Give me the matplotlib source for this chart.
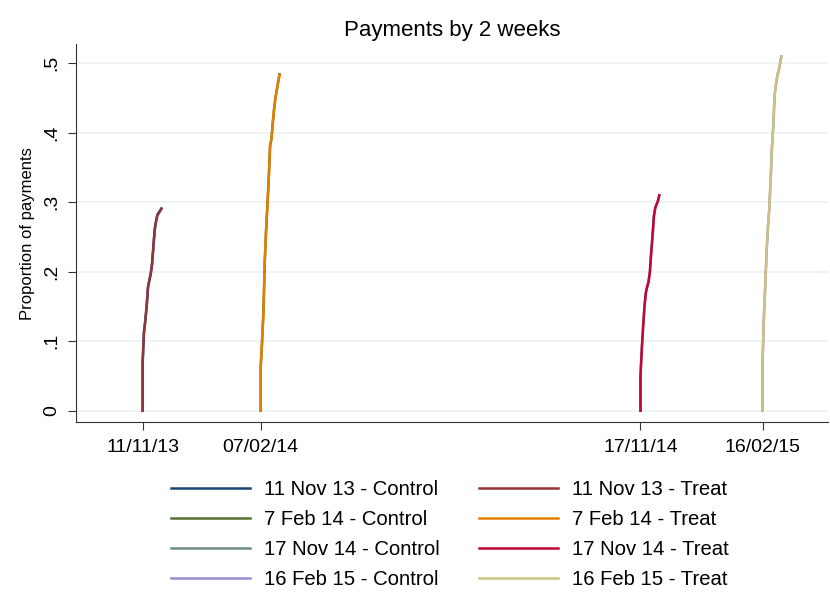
import numpy as np
import pandas as pd
import matplotlib
matplotlib.use("Agg")
import matplotlib.pyplot as plt

plt.rcParams["font.family"] = ["Liberation Sans", "DejaVu Sans"]

# cohort start dates and labels
START_DATES = ["2013-11-11", "2014-02-07", "2014-11-17", "2015-02-16"]
COHORTS = ["11 Nov 13", "7 Feb 14", "17 Nov 14", "16 Feb 15"]
TICK_LABELS = ["11/11/13", "07/02/14", "17/11/14", "16/02/15"]

# days since letter (first day repeated for the jump at day 0)
DAYS = [0, 0, 1, 2, 3, 4, 5, 6, 7, 8, 9, 10, 11, 12, 13, 14]

# cumulative proportion of payments, treatment groups
TREAT_NOV13 = [0, 0.07, 0.114, 0.13, 0.15, 0.178, 0.188, 0.196, 0.21, 0.235, 0.261, 0.272, 0.281, 0.284, 0.287, 0.29]
TREAT_FEB14 = [0, 0.064, 0.10, 0.14, 0.215, 0.26, 0.295, 0.335, 0.383, 0.39, 0.415, 0.435, 0.45, 0.462, 0.472, 0.483]
TREAT_NOV14 = [0, 0.05, 0.09, 0.122, 0.15, 0.17, 0.178, 0.185, 0.20, 0.228, 0.252, 0.28, 0.292, 0.297, 0.302, 0.31]
TREAT_FEB15 = [0, 0.073, 0.136, 0.18, 0.23, 0.265, 0.29, 0.333, 0.38, 0.41, 0.455, 0.47, 0.483, 0.49, 0.50, 0.51]

# control groups (almost on top of the treatment lines)
CONTROL_NOV13 = [0, 0.068, 0.112, 0.129, 0.151, 0.177, 0.187, 0.197, 0.211, 0.236, 0.26, 0.273, 0.282, 0.285, 0.288, 0.291]
CONTROL_FEB14 = [0, 0.062, 0.099, 0.141, 0.213, 0.259, 0.296, 0.334, 0.381, 0.391, 0.414, 0.434, 0.451, 0.461, 0.473, 0.484]
CONTROL_NOV14 = [0, 0.049, 0.089, 0.121, 0.151, 0.169, 0.179, 0.186, 0.199, 0.227, 0.251, 0.279, 0.291, 0.296, 0.301, 0.309]
CONTROL_FEB15 = [0, 0.071, 0.135, 0.181, 0.229, 0.264, 0.291, 0.332, 0.379, 0.411, 0.454, 0.469, 0.482, 0.489, 0.499, 0.509]

CONTROL_COLORS = ["#1a476f", "#55752f", "#6e8e84", "#938dd2"]
TREAT_COLORS = ["#90353b", "#e37e00", "#c10534", "#cac27e"]

controls = [CONTROL_NOV13, CONTROL_FEB14, CONTROL_NOV14, CONTROL_FEB15]
treats = [TREAT_NOV13, TREAT_FEB14, TREAT_NOV14, TREAT_FEB15]


def main():
    fig = plt.figure(figsize=(8.3, 6.07), dpi=100)
    ax = fig.add_axes([0.091, 0.305, 0.907, 0.622])

    starts = pd.to_datetime(START_DATES)
    offsets = pd.to_timedelta(DAYS, unit="D")

    ctrl_handles, treat_handles = [], []
    for i, start in enumerate(starts):
        x = start + offsets
        (hc,) = ax.plot(x, controls[i], color=CONTROL_COLORS[i], lw=1.8,
                        label=f"{COHORTS[i]} - Control")
        (ht,) = ax.plot(x, treats[i], color=TREAT_COLORS[i], lw=1.8,
                        label=f"{COHORTS[i]} - Treat")
        ctrl_handles.append(hc)
        treat_handles.append(ht)

    ax.set_xlim(starts[0] - pd.Timedelta(days=50), starts[-1] + pd.Timedelta(days=49))
    ax.set_ylim(-0.016, 0.527)

    ax.set_xticks(starts)
    ax.set_xticklabels(TICK_LABELS, fontsize=14)
    ax.set_yticks([0, 0.1, 0.2, 0.3, 0.4, 0.5])
    ax.set_yticklabels(["0", ".1", ".2", ".3", ".4", ".5"], fontsize=14,
                       rotation=90, va="center")
    ax.tick_params(direction="out", length=6, width=0.8, color="#333333")
    ax.tick_params(axis="x", pad=6)
    ax.tick_params(axis="y", pad=5)

    ax.set_ylabel("Proportion of payments", fontsize=12, labelpad=6)
    ax.set_title("Payments by 2 weeks", fontsize=16, pad=6)

    ax.grid(axis="y", color="#eaf2f3", lw=1.2)
    ax.set_axisbelow(True)
    for side in ["top", "right"]:
        ax.spines[side].set_visible(False)
    for side in ["left", "bottom"]:
        ax.spines[side].set_color("#333333")
        ax.spines[side].set_linewidth(0.8)

    fig.legend(ctrl_handles + treat_handles,
               [h.get_label() for h in ctrl_handles + treat_handles],
               ncol=2, frameon=False, fontsize=14.6,
               loc="center", bbox_to_anchor=(0.542, 0.119),
               handlelength=3.9, columnspacing=1.9, labelspacing=0.55,
               handletextpad=0.7)

    fig.savefig("out.png", dpi=100)
    plt.close(fig)


if __name__ == "__main__":
    main()
